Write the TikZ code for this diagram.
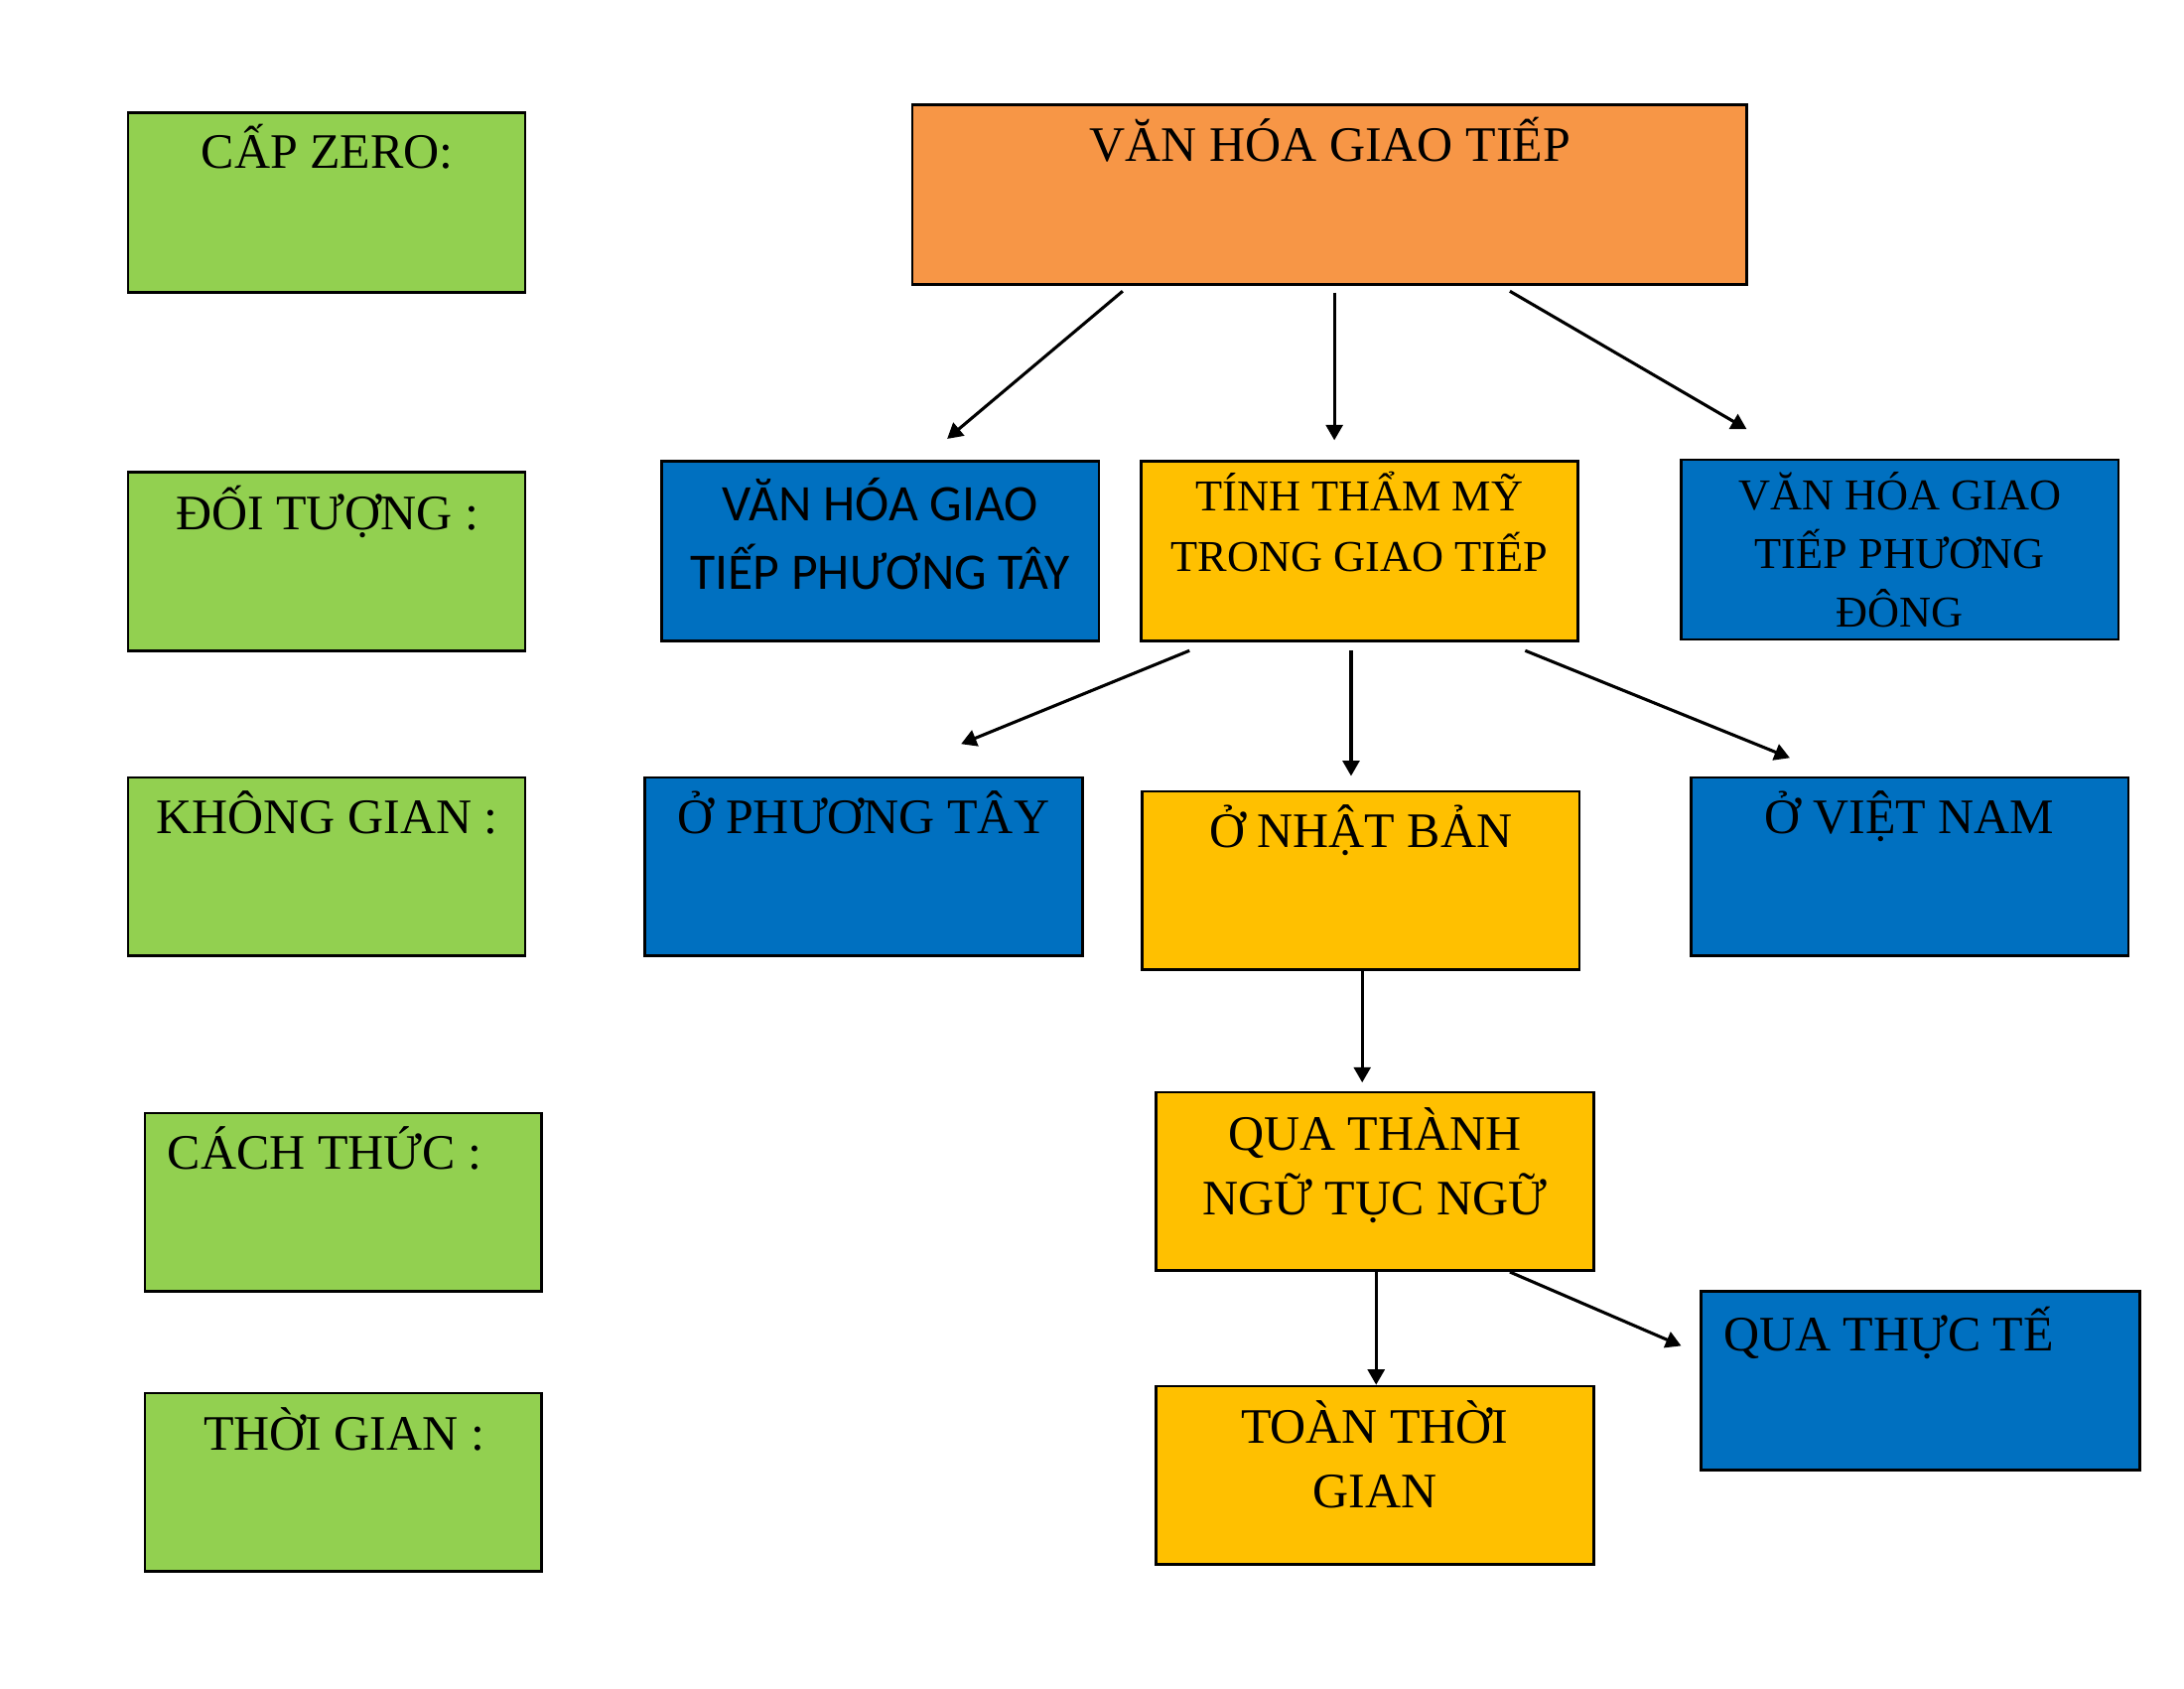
\documentclass[tikz,border=0pt]{standalone}
\usepackage{fontspec}
\setmainfont{Liberation Serif}
\newfontfamily\calib{Carlito}
\usetikzlibrary{arrows.meta,fit}
\definecolor{cgreen}{HTML}{92D050}
\definecolor{corange}{HTML}{F79646}
\definecolor{cblue}{HTML}{0070C0}
\definecolor{cgold}{HTML}{FFC000}
\begin{document}
\begin{tikzpicture}[x=0.5pt,y=-0.5pt,
  box/.style={draw=black, line width=1pt, inner sep=0pt},
  lab/.style={font=\fontsize{17.8}{23}\selectfont, inner sep=0pt, align=center},
  smalllab/.style={font=\fontsize{15.8}{21.5}\selectfont, inner sep=0pt, align=center},
  eastlab/.style={font=\fontsize{15.8}{21}\selectfont, inner sep=0pt, align=center},
  sanslab/.style={font=\calib\fontsize{18.4}{24.5}\selectfont, inner sep=0pt, align=center},
  arr/.style={-{Triangle[length=5.5pt,width=6pt]}, line width=1.1pt}]
\useasboundingbox (0,0) rectangle (1568,1212);
% left column (green)
\node[box, fill=cgreen, fit={(92,81) (377,210)}] (g1) {};
\node[box, fill=cgreen, fit={(92,339) (377,467)}] (g2) {};
\node[box, fill=cgreen, fit={(92,558) (377,686)}] (g3) {};
\node[box, fill=cgreen, fit={(104,799) (389,927)}] (g4) {};
\node[box, fill=cgreen, fit={(104,1000) (389,1128)}] (g5) {};
\node[lab, anchor=base] (tg1) at (235,121) {CẤP ZERO:};
\node[lab, anchor=base] (tg2) at (235,380) {ĐỐI TƯỢNG :};
\node[lab, anchor=base] (tg3) at (235,598) {KHÔNG GIAN :};
\node[lab, anchor=base west] (tg4) at (120,839) {CÁCH THỨC :};
\node[lab, anchor=base] (tg5) at (247,1041) {THỜI GIAN :};
% top
\node[box, fill=corange, fit={(655,75) (1254,204)}] (top) {};
\node[lab, anchor=base] (ttop) at (955,116) {VĂN HÓA GIAO TIẾP};
% level 2
\node[box, fill=cblue, fit={(475,331) (789,460)}] (west) {};
\node[sanslab, anchor=base] (twest) at (632,423) {VĂN HÓA GIAO\\TIẾP PHƯƠNG TÂY};
\node[box, fill=cgold, fit={(819,331) (1133,460)}] (aes) {};
\node[smalllab, anchor=base] (taes) at (976,410) {TÍNH THẨM MỸ\\TRONG GIAO TIẾP};
\node[box, fill=cblue, fit={(1207,330) (1521,459)}] (east) {};
\node[eastlab, anchor=base] (teast) at (1364,450) {VĂN HÓA GIAO\\TIẾP PHƯƠNG\\ĐÔNG};
% level 3
\node[box, fill=cblue, fit={(463,558) (777,686)}] (pt) {};
\node[lab, anchor=base] (tpt) at (620,598) {Ở PHƯƠNG TÂY};
\node[box, fill=cgold, fit={(820,568) (1134,696)}] (nb) {};
\node[lab, anchor=base] (tnb) at (977,608) {Ở NHẬT BẢN};
\node[box, fill=cblue, fit={(1214,558) (1528,686)}] (vn) {};
\node[lab, anchor=base] (tvn) at (1371,598) {Ở VIỆT NAM};
% level 4
\node[box, fill=cgold, fit={(830,784) (1144,912)}] (tn) {};
\node[lab, anchor=base] (ttn) at (987,872) {QUA THÀNH\\NGỮ TỤC NGỮ};
\node[box, fill=cblue, fit={(1221,927) (1536,1055)}] (tt) {};
\node[lab, anchor=base west] (ttt) at (1237,970) {QUA THỰC TẾ};
% level 5
\node[box, fill=cgold, fit={(830,995) (1144,1123)}] (all) {};
\node[lab, anchor=base] (tall) at (987,1082) {TOÀN THỜI\\GIAN};
% arrow end points
\coordinate (a1s) at (806,209); \coordinate (a1e) at (680,315);
\coordinate (a2s) at (958,210); \coordinate (a2e) at (958,316);
\coordinate (a3s) at (1084,209); \coordinate (a3e) at (1254,308);
\coordinate (b1s) at (854,467); \coordinate (b1e) at (690,534);
\coordinate (b2s) at (970,467); \coordinate (b2e) at (970,557);
\coordinate (b3s) at (1095,467); \coordinate (b3e) at (1285,544);
\coordinate (c1s) at (978,697); \coordinate (c1e) at (978,777);
\coordinate (d1s) at (988,913); \coordinate (d1e) at (988,994);
\coordinate (d2s) at (1084,913); \coordinate (d2e) at (1207,966);
\draw[arr] (a1s) -- (a1e);
\draw[arr] (a2s) -- (a2e);
\draw[arr] (a3s) -- (a3e);
\draw[arr] (b1s) -- (b1e);
\draw[arr] (b2s) -- (b2e);
\draw[arr] (b3s) -- (b3e);
\draw[arr] (c1s) -- (c1e);
\draw[arr] (d1s) -- (d1e);
\draw[arr] (d2s) -- (d2e);
\end{tikzpicture}
\end{document}
